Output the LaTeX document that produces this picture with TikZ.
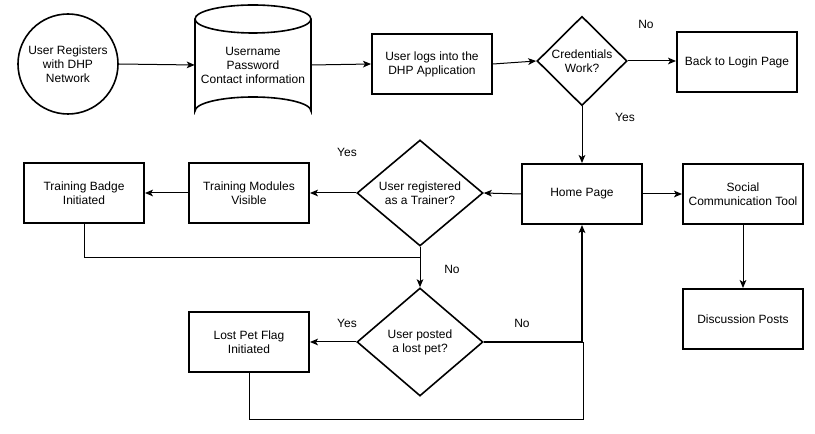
\documentclass[tikz,border=0pt]{standalone}
\usepackage{fontspec}
\setmainfont{Liberation Sans}
\usetikzlibrary{shapes.geometric,arrows.meta,calc}
\begin{document}
\begin{tikzpicture}[x=0.75pt,y=-0.75pt,
  every node/.style={font=\fontsize{9}{10.5}\selectfont,align=center,inner sep=0pt},
  box/.style={draw,line width=1.5pt,minimum width=90pt,minimum height=45pt},
  dia/.style={draw,diamond,line width=1.2pt},
  conn/.style={line width=0.75pt},
  arr/.style={conn,-{Stealth[length=6pt,width=5pt,inset=1.5pt]}},
  lbl/.style={font=\fontsize{9}{10.5}\selectfont}]
\useasboundingbox (0,0) rectangle (815,434);
% nodes
\node[draw,circle,line width=1.2pt,minimum size=75pt] (reg) at (68,64) {User Registers\\with DHP\\Network};
% cylinder
\draw[line width=1.2pt] (253,19) ellipse [x radius=58, y radius=14];
\draw[line width=1.2pt] (195,19) -- (195,111) arc[start angle=180,end angle=360,x radius=58,y radius=14] -- (311,19);
\node[minimum width=87pt,minimum height=90pt] (db) at (253,65) {Username\\Password\\Contact information};
\node[box] (login) at (432,64) {User logs into the\\DHP Application};
\node[dia,minimum width=67.5pt,minimum height=67pt] (cred) at (582,61) {Credentials\\Work?};
\node[box] (back) at (737,62) {Back to Login Page};
\node[box] (home) at (582,194) {Home Page};
\node[box] (soc) at (743,194) {Social\\Communication Tool};
\node[box] (disc) at (743,319) {Discussion Posts};
\node[dia,minimum width=94.5pt,minimum height=79.5pt] (trainer) at (420,193) {User registered\\as a Trainer?};
\node[box] (mod) at (249,193) {Training Modules\\Visible};
\node[box] (badge) at (84,193) {Training Badge\\Initiated};
\node[dia,minimum width=94.5pt,minimum height=81pt] (lost) at (420,342) {User posted\\a lost pet?};
\node[box] (flag) at (249,342) {Lost Pet Flag\\Initiated};
% labels
\node[lbl] (lno1) at (646,24) {No};
\node[lbl] (lyes1) at (625,117) {Yes};
\node[lbl] (lyes2) at (347,152) {Yes};
\node[lbl] (lno2) at (452,269) {No};
\node[lbl] (lyes3) at (347,323) {Yes};
\node[lbl] (lno3) at (522,323) {No};
% connectors
\coordinate (j1) at (420,258);
\coordinate (j2) at (583,420);
\draw[arr] (reg.east) -- (db.west);
\draw[arr] (db.east) -- (login.west);
\draw[arr] (login.east) -- (cred.west);
\draw[arr] (cred.east) -- (cred.east -| back.west);
\draw[arr] (cred.south) -- (home.north);
\draw[arr] (home.east) -- (soc.west);
\draw[arr] (soc.south) -- (disc.north);
\draw[arr] (home.west) -- (trainer.east);
\draw[arr] (trainer.west) -- (mod.east);
\draw[arr] (mod.west) -- (badge.east);
\draw[conn] (badge.south) |- (j1);
\draw[arr] (trainer.south) -- (lost.north);
\draw[arr] (lost.west) -- (flag.east);
\draw[arr,line width=1.3pt] (lost.east) -| (home.south);
\draw[conn] (flag.south) |- (j2) -- (j2 |- lost.east);
\end{tikzpicture}
\end{document}
